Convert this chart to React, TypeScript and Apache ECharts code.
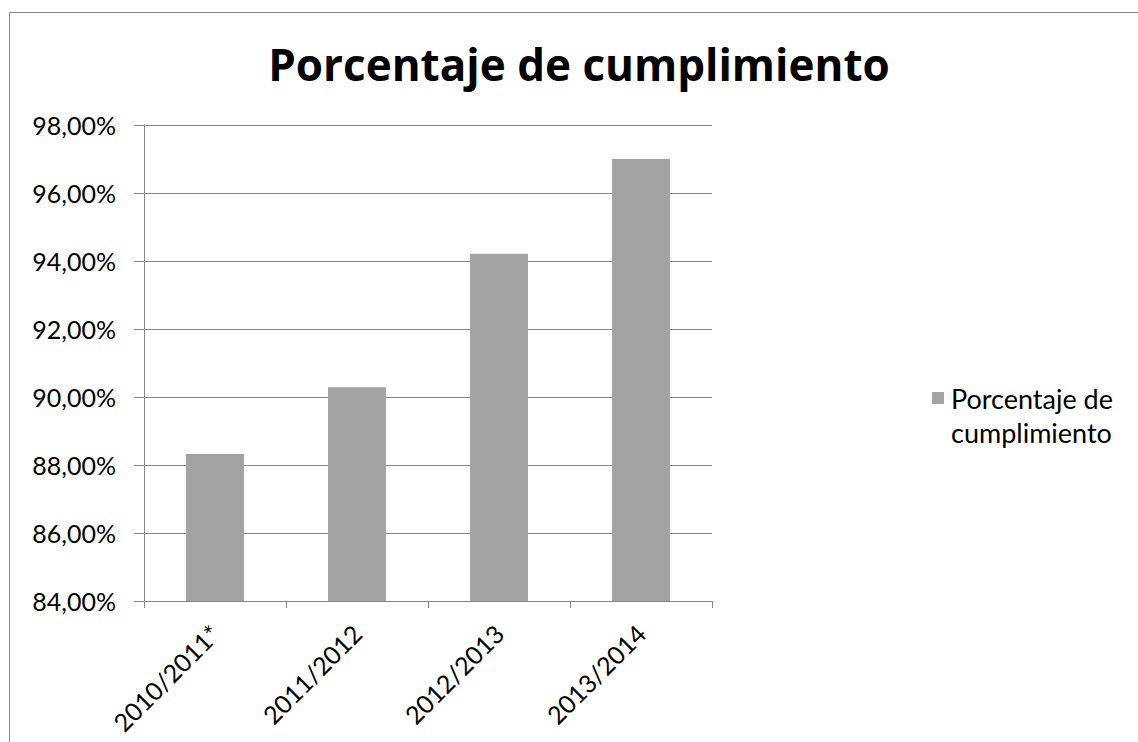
import React, { useEffect, useRef } from "react";
import * as echarts from "echarts";

const titleText = "Porcentaje de cumplimiento";
const seriesName = "Porcentaje de cumplimiento";
const legendLines = "Porcentaje de\ncumplimiento";
const categories = ["2010/2011*", "2011/2012", "2012/2013", "2013/2014"];
const values = [88.32, 90.29, 94.21, 97.0];
const yMin = 84;
const yMax = 98;
const yStep = 2;

const FONT = "Lato, 'Open Sans', sans-serif";

export default function App() {
  const ref = useRef<HTMLDivElement>(null);
  useEffect(() => {
    if (!ref.current) return;
    const chart = echarts.init(ref.current, null, { renderer: "svg" });
    chart.setOption({
      animation: false,
      backgroundColor: "#ffffff",
      textStyle: { fontFamily: FONT },
      grid: { left: 144, top: 125, width: 568, height: 476, containLabel: false },
      xAxis: {
        type: "category",
        data: categories,
        axisLine: { show: true, lineStyle: { color: "#868686", width: 1 } },
        axisTick: { show: true, length: 7, alignWithLabel: false, lineStyle: { color: "#868686" } },
        axisLabel: {
          rotate: 45,
          margin: 28,
          color: "#000",
          fontSize: 25,
          fontFamily: FONT,
          interval: 0,
        },
        splitLine: { show: false },
      },
      yAxis: {
        type: "value",
        min: yMin,
        max: yMax,
        interval: yStep,
        axisLine: { show: true, lineStyle: { color: "#868686", width: 1 } },
        axisTick: { show: true, length: 10, lineStyle: { color: "#868686" } },
        axisLabel: {
          margin: 28,
          color: "#000",
          fontSize: 25,
          fontFamily: FONT,
          formatter: (v: number) => v.toFixed(2).replace(".", ",") + "%",
        },
        splitLine: { show: true, lineStyle: { color: "#868686", width: 1 } },
      },
      series: [
        {
          name: seriesName,
          type: "bar",
          data: values,
          barWidth: 58,
          itemStyle: { color: "#a3a3a3" },
        },
      ],
      graphic: [
        {
          type: "rect",
          shape: { x: 9.5, y: 12.5, width: 1200, height: 800 },
          style: { fill: "none", stroke: "#868686", lineWidth: 1 },
          silent: true,
        },
        {
          type: "text",
          x: 579,
          y: 64,
          style: {
            text: titleText,
            fontSize: 44,
            fontWeight: "bold",
            fontFamily: "'Open Sans', sans-serif",
            fill: "#000",
            textAlign: "center",
            textVerticalAlign: "middle",
          },
        },
        {
          type: "rect",
          shape: { x: 932, y: 392, width: 12, height: 12 },
          style: { fill: "#a3a3a3" },
        },
        {
          type: "text",
          x: 951,
          y: 381,
          style: {
            text: legendLines,
            fontSize: 27,
            lineHeight: 34,
            fontFamily: FONT,
            fill: "#000",
            textAlign: "left",
            textVerticalAlign: "top",
          },
        },
      ],
    });
    return () => chart.dispose();
  }, []);
  return (
    <div
      ref={ref}
      style={{ position: "fixed", left: 0, top: 0, width: 1138, height: 742, background: "#fff" }}
    />
  );
}
